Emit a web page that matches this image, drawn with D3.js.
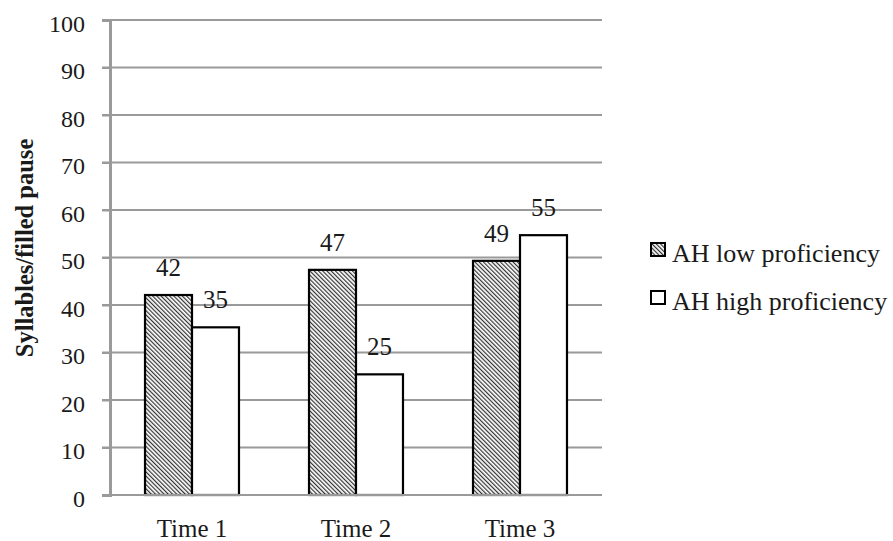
<!DOCTYPE html>
<html><head><meta charset="utf-8">
<script src="https://cdn.jsdelivr.net/npm/d3@7"></script>
<style>
html,body{margin:0;padding:0;background:#fff;}
</style></head>
<body>
<svg id="chart" width="893" height="541"></svg>
<script>
const categories = ["Time 1", "Time 2", "Time 3"];
const seriesNames = ["AH low proficiency", "AH high proficiency"];
const lowValues = [42.1, 47.4, 49.3];
const highValues = [35.3, 25.4, 54.7];
const yTicks = [0, 10, 20, 30, 40, 50, 60, 70, 80, 90, 100];
const yTitle = "Syllables/filled pause";

const FONT = '"Liberation Serif", "Times New Roman", Tinos, serif';
const svg = d3.select("#chart");
const margin = {left: 110, right: 602, top: 20, bottom: 495};

const defs = svg.append("defs");
const pat = defs.append("pattern").attr("id", "hatch")
  .attr("patternUnits", "userSpaceOnUse").attr("width", 3).attr("height", 3)
  .attr("patternTransform", "rotate(-45)");
pat.append("rect").attr("width", 3).attr("height", 3).attr("fill", "#fff");
pat.append("line").attr("x1", 0.6).attr("y1", 0).attr("x2", 0.6).attr("y2", 3)
  .attr("stroke", "#333").attr("stroke-width", 1.2);

const x = d3.scaleBand().domain(categories).range([margin.left, margin.right])
  .paddingInner(0.427).paddingOuter(0.2135);
const xs = d3.scaleBand().domain([0, 1]).range([0, x.bandwidth()]);
const y = d3.scaleLinear().domain([0, 100]).range([margin.bottom, margin.top]);

// gridlines
svg.append("g").selectAll("line").data(yTicks.filter(d => d > 0)).join("line")
  .attr("x1", margin.left - 8).attr("x2", margin.right)
  .attr("y1", d => y(d)).attr("y2", d => y(d))
  .attr("stroke", "#9a9a9a").attr("stroke-width", 2);

// y axis
const yAxis = d3.axisLeft(y).tickValues(yTicks).tickSize(8).tickPadding(17);
const gy = svg.append("g").attr("transform", `translate(${margin.left},0)`).call(yAxis);
gy.select(".domain").attr("stroke", "#9a9a9a").attr("stroke-width", 3);
gy.selectAll(".tick line").attr("stroke", "#9a9a9a").attr("stroke-width", 2);
gy.selectAll(".tick text").style("font-family", FONT).attr("font-size", 24)
  .attr("fill", "#1a1a1a").attr("dy", 11);

// bars
const data = [];
categories.forEach((c, i) => {
  data.push({cat: c, s: 0, v: lowValues[i]});
  data.push({cat: c, s: 1, v: highValues[i]});
});
svg.append("g").selectAll("rect").data(data).join("rect")
  .attr("x", d => x(d.cat) + xs(d.s))
  .attr("y", d => y(d.v))
  .attr("width", xs.bandwidth())
  .attr("height", d => y(0) - y(d.v))
  .attr("fill", d => d.s === 0 ? "url(#hatch)" : "#fff")
  .attr("stroke", "#000").attr("stroke-width", 2.2);

// value labels
const fmt = d3.format(".0f");
svg.append("g").selectAll("text").data(data).join("text")
  .attr("x", d => x(d.cat) + xs(d.s) + xs.bandwidth() / 2)
  .attr("y", d => y(d.v) - 19)
  .attr("text-anchor", "middle").style("font-family", FONT).attr("font-size", 25)
  .attr("fill", "#1a1a1a")
  .text(d => fmt(d.v));

// x axis
const xAxis = d3.axisBottom(x).tickSize(0).tickPadding(0);
const gx = svg.append("g").attr("transform", `translate(0,${margin.bottom})`).call(xAxis);
gx.select(".domain").remove();
gx.selectAll(".tick text").style("font-family", FONT).attr("font-size", 25)
  .attr("fill", "#1a1a1a").attr("y", 42).attr("dy", 0);
svg.append("line").attr("x1", margin.left - 8).attr("x2", margin.right)
  .attr("y1", y(0)).attr("y2", y(0)).attr("stroke", "#9a9a9a").attr("stroke-width", 2);

// y title
svg.append("text").attr("transform", `translate(33,248) rotate(-90)`)
  .attr("text-anchor", "middle").attr("font-weight", "bold").attr("font-size", 24.5)
  .style("font-family", FONT).attr("fill", "#1a1a1a")
  .text(yTitle);

// legend
const lg = svg.append("g");
seriesNames.forEach((n, i) => {
  const base = 262 + i * 48;
  lg.append("rect").attr("x", 651).attr("y", base - 19).attr("width", 14).attr("height", 13)
    .attr("fill", i === 0 ? "url(#hatch)" : "#fff").attr("stroke", "#000").attr("stroke-width", 2);
  lg.append("text").attr("x", 672).attr("y", base).style("font-family", FONT)
    .attr("font-size", 26).attr("fill", "#1a1a1a").text(n);
});
</script>
</body></html>
